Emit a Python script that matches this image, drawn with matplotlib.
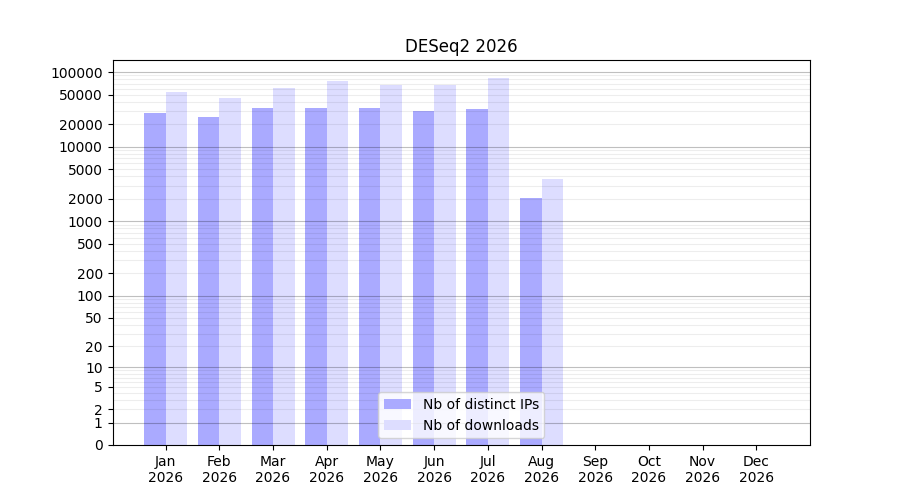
import numpy as np
import matplotlib
matplotlib.use("Agg")
import matplotlib.pyplot as plt
from matplotlib.ticker import FixedLocator, NullFormatter

# data
months = ["Jan", "Feb", "Mar", "Apr", "May", "Jun",
          "Jul", "Aug", "Sep", "Oct", "Nov", "Dec"]
year = "2026"
distinct_ips = [28200, 24900, 32900, 32900, 32900, 30000, 31900, 2050]
downloads = [54000, 44800, 61000, 75700, 67000, 67000, 83100, 3680]
ytick_vals = [0, 1, 2, 5, 10, 20, 50, 100, 200, 500, 1000, 2000,
              5000, 10000, 20000, 50000, 100000]


def fwd(x):
    x = np.asarray(x, dtype=float)
    return np.sign(x) * np.log10(1 + np.abs(x))


def inv(y):
    y = np.asarray(y, dtype=float)
    return np.sign(y) * (10 ** np.abs(y) - 1)


fig, ax = plt.subplots(figsize=(9, 5), dpi=100)
ax.set_yscale("function", functions=(fwd, inv))

x = np.arange(len(months))
n = len(distinct_ips)
w = 0.4
ax.bar(x[:n] - w, distinct_ips, width=w, align="edge", color="#aaaaff",
       label="Nb of distinct IPs", zorder=1)
ax.bar(x[:n], downloads, width=w, align="edge", color="#ddddff",
       label="Nb of downloads", zorder=1)

# grid: darker lines at decades, lighter in between (translucent, over bars)
for d in range(0, 6):
    ax.axhline(10 ** d, color="k", alpha=0.25, lw=0.8, zorder=2)
    if d < 5:
        for k in range(2, 10):
            ax.axhline(k * 10 ** d, color="k", alpha=0.07, lw=0.8, zorder=2)

ax.set_ylim(0, inv(5.162))
ax.set_xlim(-0.99, 12.0)
ax.yaxis.set_major_locator(FixedLocator(ytick_vals))
ax.set_yticklabels([str(v) for v in ytick_vals])
ax.yaxis.set_minor_formatter(NullFormatter())
ax.yaxis.set_minor_locator(FixedLocator([]))

ax.set_xticks(x)
ax.set_xticklabels([f"{m}\n{year}" for m in months])
ax.set_title("DESeq2 2026")
ax.legend(loc="lower center")

fig.savefig("out.png", dpi=100)
